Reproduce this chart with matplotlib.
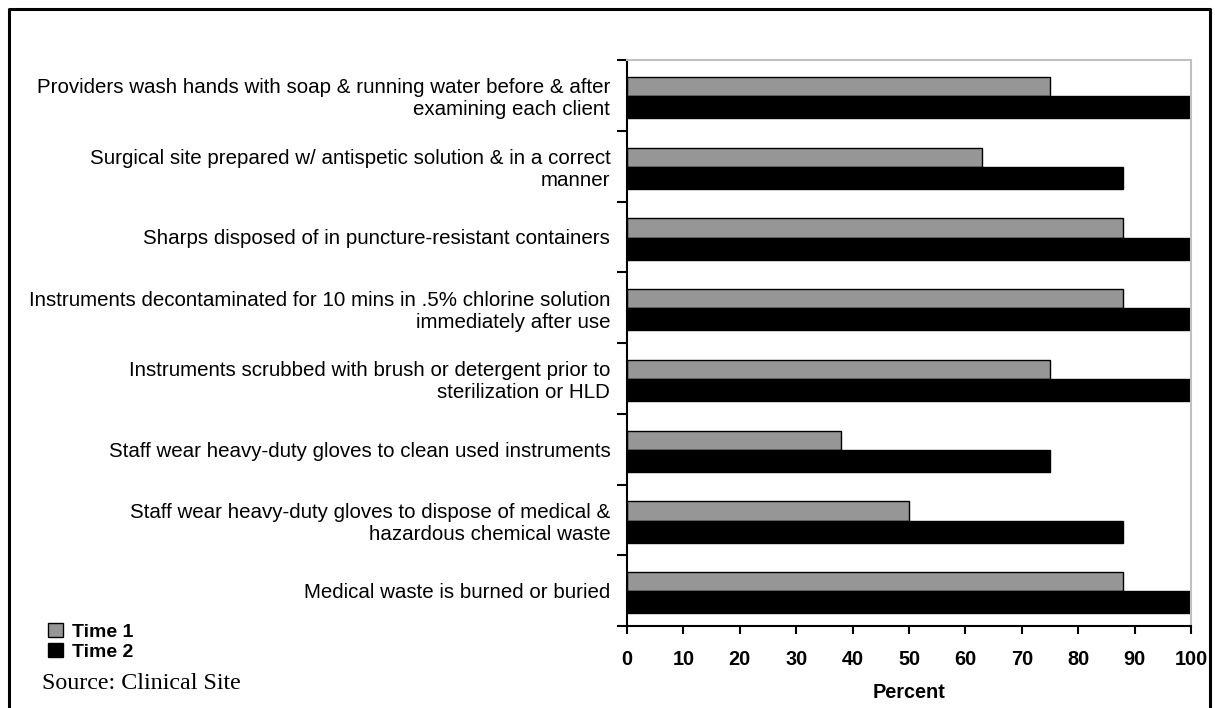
import matplotlib
matplotlib.use("Agg")
import matplotlib.pyplot as plt
from matplotlib.patches import Patch
from matplotlib.lines import Line2D

categories = [
    "Providers wash hands with soap & running water before & after\nexamining each client",
    "Surgical site prepared w/ antispetic solution & in a correct\nmanner",
    "Sharps disposed of in puncture-resistant containers",
    "Instruments decontaminated for 10 mins in .5% chlorine solution\nimmediately after use",
    "Instruments scrubbed with brush or detergent prior to\nsterilization or HLD",
    "Staff wear heavy-duty gloves to clean used instruments",
    "Staff wear heavy-duty gloves to dispose of medical &\nhazardous chemical waste",
    "Medical waste is burned or buried",
]
time1 = [75, 63, 88, 88, 75, 38, 50, 88]
time2 = [100, 88, 100, 100, 100, 75, 88, 100]
series_names = ["Time 1", "Time 2"]
xticks = list(range(0, 101, 10))

W, H = 1215, 708
plt.rcParams['font.family'] = ['Liberation Sans', 'DejaVu Sans']
fig = plt.figure(figsize=(W / 100, H / 100), dpi=100)
ax = fig.add_axes([627 / W, 1 - 626 / H, (1191 - 627) / W, (626 - 60) / H])

pos = list(range(len(categories)))
h1, h2 = 0.27, 0.31
ax.barh([p + 0.01 - h1 / 2 for p in pos], time1, height=h1, color="#969696",
        edgecolor="black", linewidth=1.0)
ax.barh([p + 0.01 + h2 / 2 for p in pos], time2, height=h2, color="black",
        edgecolor="black", linewidth=1.0)

ax.set_ylim(len(categories) - 0.5, -0.5)
ax.set_xlim(0, 100)

# labels at category centres, tick marks at the boundaries
ax.set_yticks(pos)
ax.set_yticklabels(categories, fontsize=14.8, ha="right", multialignment="right",
                   linespacing=1.2)
ax.tick_params(axis="y", which="major", length=0, pad=12)
ax.set_yticks([p - 0.5 for p in pos] + [len(pos) - 0.5], minor=True)
ax.tick_params(axis="y", which="minor", length=7, width=1.5, direction="out")

ax.set_xticks(xticks)
ax.set_xticklabels([str(t) for t in xticks], fontsize=14.3, fontweight="bold")
ax.tick_params(axis="x", length=6, width=1.5, direction="out", pad=11)
ax.set_xlabel("Percent", fontsize=14.3, fontweight="bold", labelpad=10)

for s in ["top", "right"]:
    ax.spines[s].set_color("#c0c0c0")
    ax.spines[s].set_linewidth(1.5)
for s in ["left", "bottom"]:
    ax.spines[s].set_color("black")
    ax.spines[s].set_linewidth(1.5)

handles = [Patch(facecolor="#969696", edgecolor="black", linewidth=1.0),
           Patch(facecolor="black", edgecolor="black", linewidth=1.0)]
fig.legend(handles, series_names, loc="upper left",
           bbox_to_anchor=(48 / W, 1 - 623 / H), frameon=False,
           handlelength=0.75, handleheight=0.75, handletextpad=0.5,
           labelspacing=0.1, borderpad=0, borderaxespad=0,
           prop={"weight": "bold", "size": 14})

fig.text(42 / W, 1 - 689 / H, "Source: Clinical Site", fontsize=17.3,
         family="Liberation Serif", va="baseline")

# outer frame (open at the bottom)
fig.add_artist(Line2D([9 / W, 9 / W, 1210 / W, 1210 / W],
                      [0, 1 - 9 / H, 1 - 9 / H, 0],
                      transform=fig.transFigure, color="black", linewidth=2.2))

fig.savefig("out.png", dpi=100)
